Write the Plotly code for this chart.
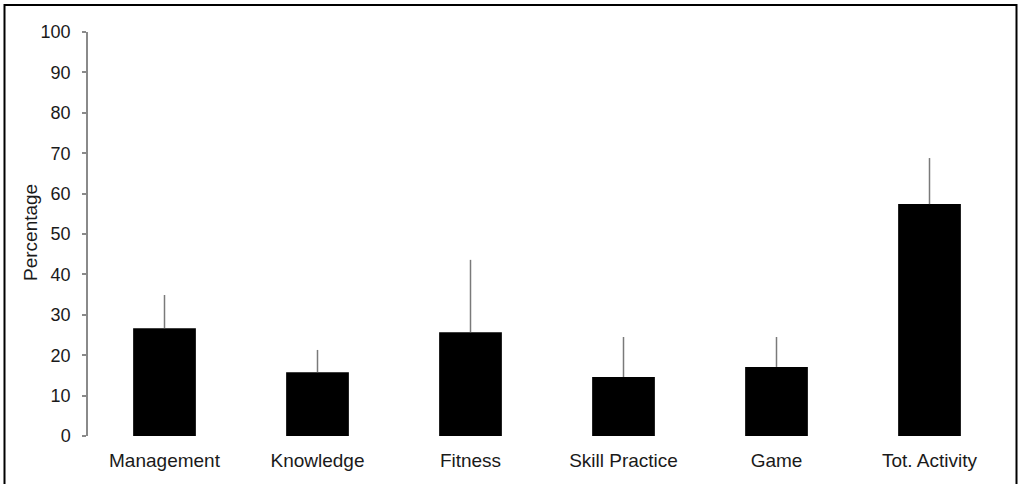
import plotly.graph_objects as go

categories = ["Management", "Knowledge", "Fitness", "Skill Practice", "Game", "Tot. Activity"]
means = [26.7, 15.8, 25.7, 14.6, 17.1, 57.4]
errors = [8.2, 5.5, 17.9, 9.9, 7.4, 11.4]
ytick_vals = [0, 10, 20, 30, 40, 50, 60, 70, 80, 90, 100]
ytick_text = ["0", "10", "20", "30", "40", "50", "60", "70", "80", "90", "100"]

W, H = 1020, 484
L, R, T, B = 88, 14, 32, 48
pw, ph = W - L - R, H - T - B

def px_x(x):
    return (x - L) / pw

def px_y(y):
    return (H - B - y) / ph

fig = go.Figure()
fig.add_trace(go.Bar(
    x=categories, y=means, width=0.41,
    marker=dict(color="black", line=dict(width=0)),
    error_y=dict(type="data", symmetric=False, array=errors,
                 arrayminus=[0] * len(errors), width=0, thickness=1.5, color="#7a7a7a"),
))

family = "Liberation Sans, Arial, sans-serif"
xfont = dict(family=family, size=19, color="#1a1a1a")
yfont = dict(family=family, size=18, color="#1a1a1a")
tfont = dict(family=family, size=19, color="#1a1a1a")

fig.update_layout(
    width=W, height=H,
    margin=dict(l=L, r=R, t=T, b=B),
    paper_bgcolor="white", plot_bgcolor="white",
    showlegend=False,
    font=xfont,
    xaxis=dict(range=[-0.5, 5.5], showline=False, ticks="", showgrid=False,
               zeroline=False, tickfont=xfont, ticklabelstandoff=11),
    yaxis=dict(range=[0, 100], tickvals=ytick_vals, ticktext=ytick_text,
               showline=True, linecolor="#8a8a8a", linewidth=1.5,
               ticks="outside", ticklen=4, tickcolor="#8a8a8a", tickwidth=1.5,
               showgrid=False, zeroline=False, tickfont=yfont, ticklabelstandoff=8),
    annotations=[dict(text="Percentage", textangle=-90, x=px_x(30), y=px_y(233),
                      xref="paper", yref="paper", showarrow=False, font=tfont,
                      xanchor="center", yanchor="middle")],
    shapes=[dict(type="path", xref="paper", yref="paper",
                 path=f"M {px_x(4.5)} {px_y(484)} L {px_x(4.5)} {px_y(5)} L {px_x(1016.5)} {px_y(5)} L {px_x(1016.5)} {px_y(484)}",
                 line=dict(color="black", width=2))],
)

fig.write_html("out.html")
